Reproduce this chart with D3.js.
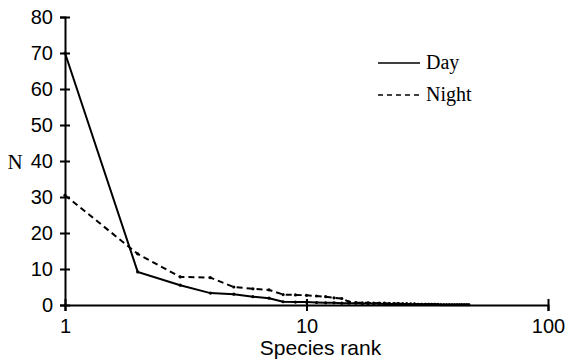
<!DOCTYPE html>
<html>
<head>
<meta charset="utf-8">
<script src="https://cdn.jsdelivr.net/npm/d3@7"></script>
<style>
  body { margin: 0; background: #fff; }
  svg { display: block; }
</style>
</head>
<body>
<div id="chart"></div>
<script>
// Abundance per species rank, day and night catches
const dayCounts = [70, 9.2, 5.5, 3.3, 3.0, 2.3, 1.9, 0.9, 0.8, 0.8,
  0.7, 0.6, 0.6, 0.5, 0.5, 0.5, 0.4, 0.4, 0.4, 0.4,
  0.3, 0.3, 0.3, 0.3, 0.3, 0.3, 0.2, 0.2, 0.2, 0.2,
  0.2, 0.2, 0.2, 0.2, 0.2, 0.1, 0.1, 0.1, 0.1, 0.1,
  0.1, 0.1, 0.1, 0.1, 0.1, 0.1, 0.1];
const nightCounts = [30.5, 14.2, 7.8, 7.6, 5.0, 4.5, 4.2, 2.9, 2.8, 2.7,
  2.5, 2.3, 2.0, 1.8, 0.9, 0.7, 0.6, 0.6, 0.5, 0.5,
  0.5, 0.4, 0.4, 0.4, 0.3, 0.3, 0.3, 0.3, 0.2, 0.2,
  0.2, 0.2, 0.2, 0.2];
const xTicks = [1, 10, 100];
const yTicks = [0, 10, 20, 30, 40, 50, 60, 70, 80];

const series = [
  { name: "Day", values: dayCounts, dash: null },
  { name: "Night", values: nightCounts, dash: "6,4" }
];

const width = 569;
const height = 360;

const svg = d3.select("#chart")
  .append("svg")
  .attr("width", width)
  .attr("height", height);

const x = d3.scaleLog().domain([1, 100]).range([65, 548]);
const y = d3.scaleLinear().domain([0, 80]).range([305, 17]);

// Y axis, ticks crossing the line
const yAxis = svg.append("g")
  .attr("transform", `translate(${x(1)},0)`)
  .call(d3.axisLeft(y).tickValues(yTicks).tickSize(5).tickPadding(7));
yAxis.select(".domain").attr("stroke", "#000").attr("stroke-width", 2);
yAxis.selectAll(".tick line").attr("x1", 5).attr("x2", -5).attr("stroke-width", 2);
yAxis.selectAll(".tick text")
  .attr("font-family", "Liberation Sans, Arial, sans-serif")
  .attr("font-size", 20)
  .attr("fill", "#000");

// X axis (log)
const xAxis = svg.append("g")
  .attr("transform", `translate(0,${y(0)})`)
  .call(d3.axisBottom(x).tickValues(xTicks).tickFormat(d3.format("d")).tickSize(6).tickPadding(8));
xAxis.select(".domain").attr("stroke", "#000").attr("stroke-width", 2);
xAxis.selectAll(".tick line").attr("y1", -6).attr("y2", 6).attr("stroke-width", 2);
xAxis.selectAll(".tick text")
  .attr("font-family", "Liberation Sans, Arial, sans-serif")
  .attr("font-size", 20)
  .attr("fill", "#000");

svg.append("text")
  .attr("x", x(10) + 14)
  .attr("y", 355)
  .attr("text-anchor", "middle")
  .attr("font-family", "Liberation Sans, Arial, sans-serif")
  .attr("font-size", 21)
  .text("Species rank");

svg.append("text")
  .attr("x", 15)
  .attr("y", 169)
  .attr("text-anchor", "middle")
  .attr("font-family", "Liberation Serif, Times New Roman, serif")
  .attr("font-size", 21)
  .text("N");

const line = d3.line()
  .x((d, i) => x(i + 1))
  .y(d => y(d));

series.forEach(s => {
  svg.append("path")
    .datum(s.values)
    .attr("fill", "none")
    .attr("stroke", "#000")
    .attr("stroke-width", 2)
    .attr("stroke-dasharray", s.dash)
    .attr("d", line);

  svg.append("g")
    .selectAll("circle")
    .data(s.values)
    .join("circle")
    .attr("cx", (d, i) => x(i + 1))
    .attr("cy", d => y(d))
    .attr("r", 1.6)
    .attr("fill", "#000");
});

// Legend
const legend = svg.append("g").attr("transform", "translate(378,63)");
series.forEach((s, i) => {
  const row = legend.append("g").attr("transform", `translate(0,${i * 32})`);
  row.append("line")
    .attr("x1", 0).attr("x2", 42)
    .attr("stroke", "#000")
    .attr("stroke-width", 1.5)
    .attr("stroke-dasharray", s.dash ? "5,4" : null);
  row.append("text")
    .attr("x", 48)
    .attr("y", 6)
    .attr("font-family", "Liberation Serif, Times New Roman, serif")
    .attr("font-size", 20)
    .text(s.name);
});
</script>
</body>
</html>
